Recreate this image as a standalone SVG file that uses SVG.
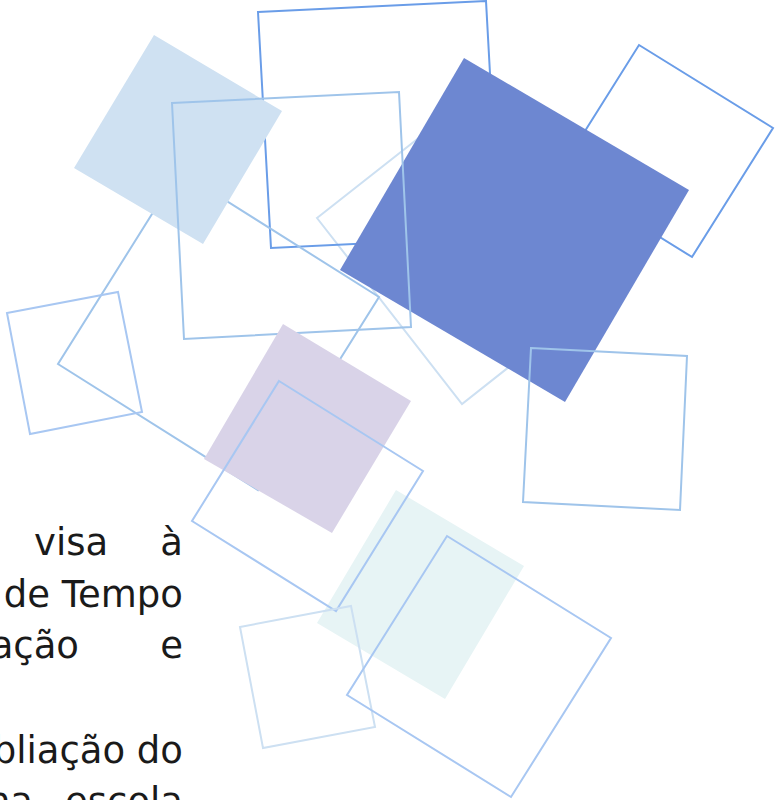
<svg xmlns="http://www.w3.org/2000/svg" width="780" height="800" viewBox="0 0 780 800">
<style>
.o{fill:none;stroke-width:2;stroke-linejoin:miter}
.s1{stroke:#6a9de8}
.s2{stroke:#9fc4ea}
.s3{stroke:#a8c7f2}
.s4{stroke:#cde0f2}
.t{font-family:"DejaVu Sans","Liberation Sans",sans-serif;font-size:37px;fill:#1a1a1a}
</style>
<rect width="780" height="800" fill="#ffffff"/>
<g id="shapes">
<polygon id="g" class="o s4" points="317,218 495,78 642,262 462,404"/>
<polygon id="m" class="o s1" points="639,45 773,128 692,257 558,174"/>
<polygon id="b" class="o s1" points="258,12 486,1 499,237 271,248"/>
<polygon id="f" fill="#6d87d1" points="464,58 689,190 565,402 340,270"/>
<polygon id="d" class="o s2" points="179,171 379,297 258,490 58,364"/>
<polygon id="a" fill="#cfe1f2" points="154,35 282,111 203,244 74,168"/>
<polygon id="c" class="o s2" points="172,103 399,92 411,327 184,339"/>
<polygon id="l" class="o s2" points="531,348 687,356 680,510 523,502"/>
<polygon id="n" class="o s3" points="7,313 118,292 142,412 30,434"/>
<polygon id="e" fill="#d9d3e8" points="283,324 411,401 332,533 204,459"/>
<polygon id="i" fill="#e7f4f5" points="396,490 524,566 445,699 317,623"/>
<polygon id="h" class="o s3" points="279,381 423,471 336,611 192,521"/>
<polygon id="j" class="o s4" points="240,627 351,606 375,727 263,748"/>
<polygon id="k" class="o s3" points="447,536 611,638 511,797 347,695"/>
</g>
<g id="text" class="t">
<text x="34" y="555">visa</text>
<text x="183" y="555" text-anchor="end">à</text>
<text x="183" y="607" text-anchor="end">de Tempo</text>
<text x="79" y="658" text-anchor="end">ação</text>
<text x="183" y="658" text-anchor="end">e</text>
<text x="183" y="763" text-anchor="end">bliação do</text>
<text x="33" y="814" text-anchor="end">na</text>
<text x="183" y="814" text-anchor="end">escola</text>
</g>
</svg>
